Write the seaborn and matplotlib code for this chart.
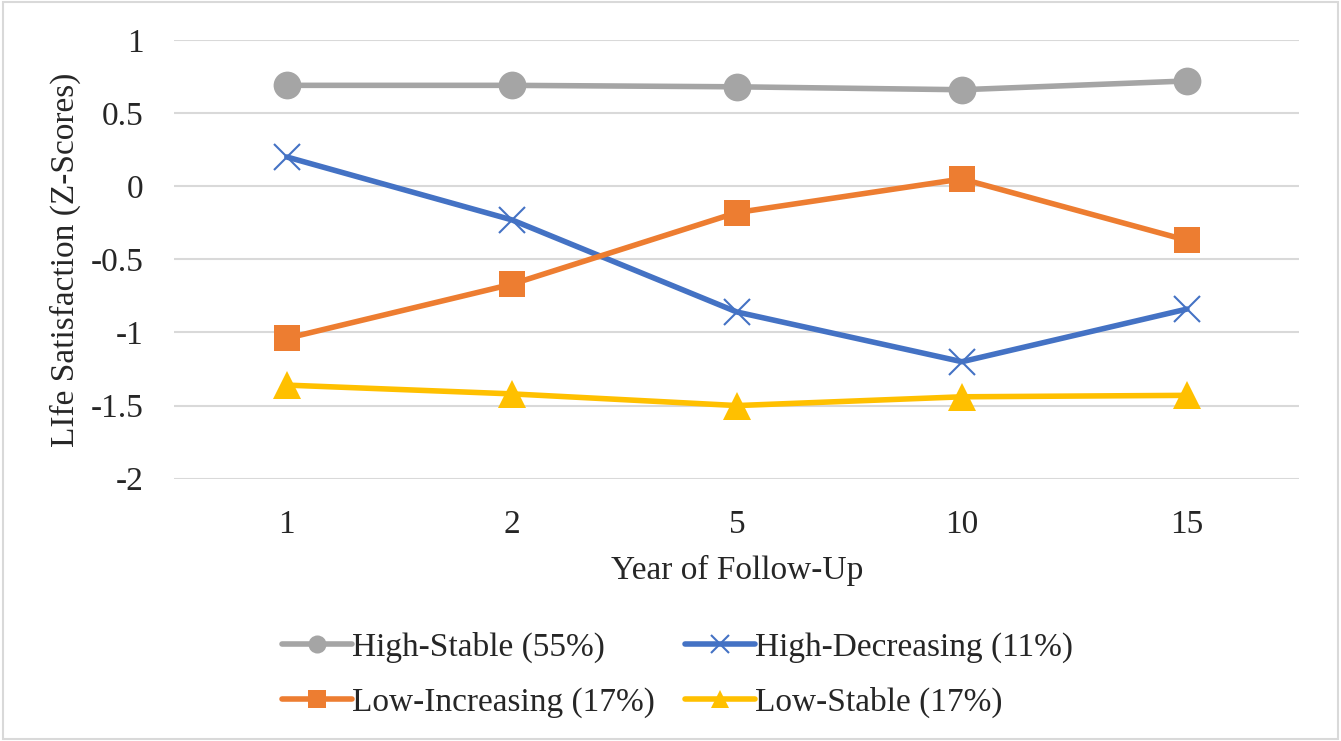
import pandas as pd
import matplotlib.pyplot as plt
import seaborn as sns
from matplotlib.patches import Rectangle

# Data
years = ["1", "2", "5", "10", "15"]
high_stable = [0.69, 0.69, 0.68, 0.66, 0.72]
high_decreasing = [0.20, -0.23, -0.86, -1.20, -0.84]
low_increasing = [-1.04, -0.67, -0.18, 0.05, -0.37]
low_stable = [-1.36, -1.42, -1.50, -1.44, -1.43]

labels = ["High-Stable (55%)", "High-Decreasing (11%)",
          "Low-Increasing (17%)", "Low-Stable (17%)"]
colors = ["#A5A5A5", "#4472C4", "#ED7D31", "#FFC000"]
markers = ["o", "x", "s", "^"]
sizes = [20, 19, 19, 20]
series = [high_stable, high_decreasing, low_increasing, low_stable]

sns.set_style("white")
plt.rcParams["font.family"] = ["Liberation Serif", "DejaVu Serif"]
fs = 24

fig = plt.figure(figsize=(13.41, 7.41), dpi=100)
ax = fig.add_axes([0.130, 0.354, 0.839, 0.592])

# one lineplot per group so filled and line-art markers can be mixed
for lab, vals, c, m, s in zip(labels, series, colors, markers, sizes):
    d = pd.DataFrame({"Year": years, "Score": vals})
    sns.lineplot(data=d, x="Year", y="Score", color=c, marker=m, markersize=s,
                 markeredgecolor=c, markeredgewidth=(1.5 if m == "x" else 0),
                 sort=False, linewidth=4.0, ax=ax, label=lab, legend=False)

ax.set_ylim(-2, 1)
ax.set_xlim(-0.5, 4.5)
ax.set_yticks([1, 0.5, 0, -0.5, -1, -1.5, -2])
ax.set_yticklabels(["1", "0.5", "0", "-0.5", "-1", "-1.5", "-2"])
ax.yaxis.grid(True, color="#D9D9D9", linewidth=1.5)
ax.xaxis.grid(False)
for sp in ax.spines.values():
    sp.set_visible(False)
ax.tick_params(axis="both", length=0, labelsize=fs)
ax.tick_params(axis="x", pad=22)
ax.tick_params(axis="y", pad=22)
ax.set_xlabel("Year of Follow-Up", fontsize=fs, labelpad=11)
ax.set_ylabel("LIfe Satisfaction (Z-Scores)", fontsize=fs, labelpad=7)

# legend filled row by row like the original
lines = ax.get_lines()
order = [0, 2, 1, 3]
leg = fig.legend([lines[i] for i in order], [labels[i] for i in order],
                 loc="center", ncol=2, bbox_to_anchor=(0.505, 0.089),
                 frameon=False, fontsize=fs, handlelength=2.1, handletextpad=0.0,
                 columnspacing=0.9, labelspacing=0.7)
for h in leg.legend_handles:
    h.set_markersize(13)

# light border round the whole chart
fig.patches.append(Rectangle((0.002, 0.003), 0.996, 0.994, transform=fig.transFigure,
                             fill=False, edgecolor="#D9D9D9", linewidth=1.5))

fig.savefig("out.png", dpi=100)
